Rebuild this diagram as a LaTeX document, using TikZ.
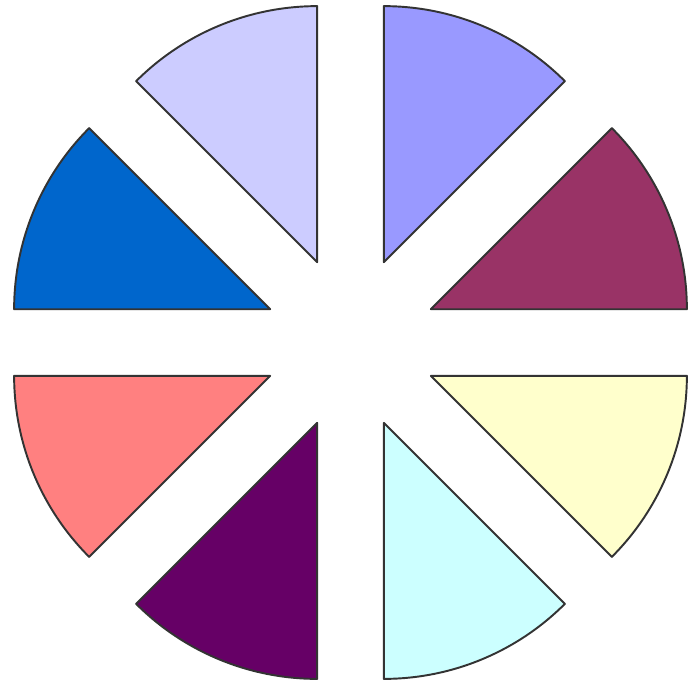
\documentclass[tikz,border=0pt]{standalone}
\begin{document}
\begin{tikzpicture}[x=0.02cm,y=0.02cm]
  \definecolor{wedgeedge}{HTML}{333333}
  \useasboundingbox (-350.5,-341.5) rectangle (337.5,342.5);
  \foreach \a/\c in {45/9999FF,0/993366,-45/FFFFCC,-90/CCFFFF,
                     225/660066,180/FF8080,135/0066CC,90/CCCCFF} {
    \definecolor{wedgefill}{HTML}{\c}
    \draw[fill=wedgefill,draw=wedgeedge,line width=1.1pt,line join=round]
      ([shift={(\a+22.5:87)}]0,0) -- ++(\a:256)
      arc[start angle=\a,end angle=\a+45,radius=256] -- cycle;
  }
\end{tikzpicture}
\end{document}
